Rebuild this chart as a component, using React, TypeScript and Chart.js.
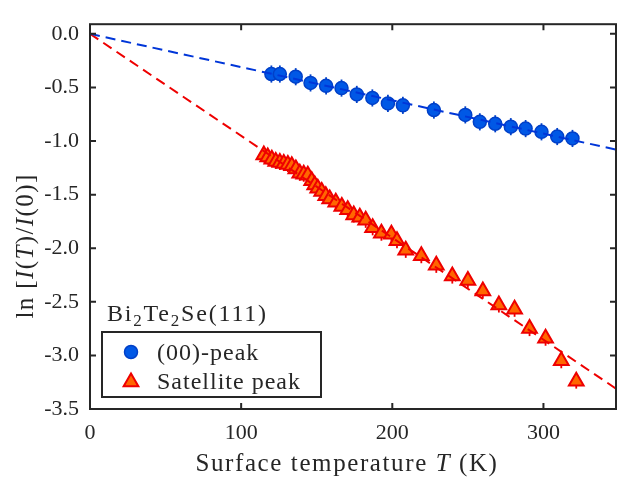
import React, { useEffect, useRef } from 'react';
import { Chart, registerables } from 'chart.js';

Chart.register(...registerables);

// ---------- data ----------
const blueT = [120.0, 125.6, 136.1, 145.9, 156.2, 166.4, 176.5, 186.8, 197.1, 207.0, 227.5, 248.3, 257.9, 268.1, 278.4, 288.2, 298.7, 309.1, 319.2];
const blueLn = [-0.375, -0.375, -0.4, -0.458, -0.485, -0.506, -0.565, -0.598, -0.649, -0.667, -0.711, -0.756, -0.821, -0.839, -0.866, -0.884, -0.914, -0.958, -0.976];
const blueErr = [0.08, 0.08, 0.08, 0.08, 0.08, 0.08, 0.08, 0.08, 0.08, 0.08, 0.08, 0.08, 0.08, 0.08, 0.08, 0.08, 0.08, 0.08, 0.08];

const redT = [115.0, 117.6, 120.3, 122.9, 125.6, 128.2, 130.9, 133.5, 136.2, 138.8, 141.4, 144.1, 146.7, 148.7, 150.7, 153.3, 156.0, 158.6, 162.6, 166.6, 170.5, 174.5, 178.5, 182.4, 187.0, 192.8, 199.4, 203.1, 208.9, 219.2, 229.1, 239.7, 250.0, 259.9, 270.5, 280.9, 290.8, 301.4, 311.8, 321.7];
const redLn = [-1.13, -1.15, -1.17, -1.19, -1.2, -1.21, -1.22, -1.23, -1.26, -1.3, -1.31, -1.32, -1.37, -1.41, -1.44, -1.47, -1.51, -1.54, -1.57, -1.61, -1.64, -1.69, -1.71, -1.74, -1.81, -1.86, -1.87, -1.93, -2.02, -2.07, -2.16, -2.26, -2.3, -2.4, -2.53, -2.57, -2.75, -2.84, -3.05, -3.24];
const redErr = [0.07, 0.07, 0.07, 0.07, 0.07, 0.07, 0.07, 0.07, 0.07, 0.07, 0.07, 0.07, 0.07, 0.07, 0.07, 0.07, 0.07, 0.07, 0.07, 0.07, 0.07, 0.07, 0.07, 0.07, 0.07, 0.07, 0.07, 0.07, 0.07, 0.07, 0.07, 0.07, 0.07, 0.07, 0.07, 0.07, 0.07, 0.07, 0.07, 0.07];

const fitT = [0, 348];
const blueFit = [0, -1.08];
const redFit = [0, -3.31];

const xTicks = [0, 100, 200, 300];
const yTicks = [0, -0.5, -1, -1.5, -2, -2.5, -3, -3.5];
const X_MIN = 0;
const X_MAX = 348;
const Y_MIN = -3.5;
const Y_MAX = 0.09;

type Seg = { t: string; it?: boolean; sub?: boolean };
const legendTitle: Seg[] = [{ t: 'Bi' }, { t: '2', sub: true }, { t: 'Te' }, { t: '2', sub: true }, { t: 'Se(111)' }];
const seriesLabels = ['(00)-peak', 'Satellite peak'];
const xTitle: Seg[] = [{ t: 'Surface temperature ' }, { t: 'T', it: true }, { t: ' (K)' }];
const yTitle: Seg[] = [{ t: 'ln [' }, { t: 'I', it: true }, { t: '(' }, { t: 'T', it: true }, { t: ')/' }, { t: 'I', it: true }, { t: '(0)]' }];

// ---------- styles ----------
const FONT = "'Liberation Serif', 'Times New Roman', serif";
const AXIS = '#262626';
const BLUE_FILL = '#0058e6';
const BLUE_EDGE = '#0040c8';
const BLUE_LINE = '#0036d8';
const RED_FILL = '#ff6600';
const RED_EDGE = '#ee0000';
const RED_LINE = '#ee0000';

function drawSegs(ctx: CanvasRenderingContext2D, segs: Seg[], x: number, y: number, size: number, align: 'left' | 'center', spacing: number) {
  ctx.save();
  ctx.textBaseline = 'alphabetic';
  ctx.textAlign = 'left';
  (ctx as any).letterSpacing = spacing + 'px';
  ctx.fillStyle = AXIS;
  const fontFor = (s: Seg) => `${s.it ? 'italic ' : ''}${s.sub ? Math.round(size * 0.7) : size}px ${FONT}`;
  let total = 0;
  for (const s of segs) {
    ctx.font = fontFor(s);
    total += ctx.measureText(s.t).width;
  }
  let cx = align === 'center' ? x - total / 2 : x;
  for (const s of segs) {
    ctx.font = fontFor(s);
    ctx.fillText(s.t, cx, y + (s.sub ? size * 0.22 : 0));
    cx += ctx.measureText(s.t).width;
  }
  ctx.restore();
}

function circle(ctx: CanvasRenderingContext2D, x: number, y: number, r: number) {
  ctx.beginPath();
  ctx.arc(x, y, r, 0, Math.PI * 2);
  ctx.fillStyle = BLUE_FILL;
  ctx.fill();
  ctx.lineWidth = 1.5;
  ctx.strokeStyle = BLUE_EDGE;
  ctx.stroke();
}

function triangle(ctx: CanvasRenderingContext2D, x: number, y: number, r: number) {
  ctx.beginPath();
  for (let i = 0; i < 3; i++) {
    const a = (i * 2 * Math.PI) / 3;
    const px = x + Math.sin(a) * r;
    const py = y - Math.cos(a) * r;
    if (i === 0) ctx.moveTo(px, py);
    else ctx.lineTo(px, py);
  }
  ctx.closePath();
  ctx.fillStyle = RED_FILL;
  ctx.fill();
  ctx.lineWidth = 2;
  ctx.lineJoin = 'miter';
  ctx.strokeStyle = RED_EDGE;
  ctx.stroke();
}

const decorPlugin = {
  id: 'decor',
  beforeDatasetsDraw(chart: any) {
    const { ctx, scales } = chart;
    const xs = scales.x;
    const ys = scales.y;
    ctx.save();
    ctx.lineWidth = 1.8;
    ctx.strokeStyle = BLUE_EDGE;
    blueT.forEach((t, i) => {
      const px = xs.getPixelForValue(t);
      ctx.beginPath();
      ctx.moveTo(px, ys.getPixelForValue(blueLn[i] + blueErr[i]));
      ctx.lineTo(px, ys.getPixelForValue(blueLn[i] - blueErr[i]));
      ctx.stroke();
    });
    ctx.strokeStyle = RED_EDGE;
    redT.forEach((t, i) => {
      const px = xs.getPixelForValue(t);
      ctx.beginPath();
      ctx.moveTo(px, ys.getPixelForValue(redLn[i] + redErr[i]));
      ctx.lineTo(px, ys.getPixelForValue(redLn[i] - redErr[i]));
      ctx.stroke();
    });
    ctx.restore();
  },
  afterDatasetsDraw(chart: any) {
    const { ctx, chartArea: a, scales } = chart;
    ctx.save();
    ctx.strokeStyle = AXIS;
    ctx.lineWidth = 2;
    ctx.strokeRect(a.left, a.top, a.right - a.left, a.bottom - a.top);
    const TL = 6;
    ctx.beginPath();
    xTicks.forEach((v) => {
      const px = scales.x.getPixelForValue(v);
      ctx.moveTo(px, a.bottom);
      ctx.lineTo(px, a.bottom - TL);
      ctx.moveTo(px, a.top);
      ctx.lineTo(px, a.top + TL);
    });
    yTicks.forEach((v) => {
      const py = scales.y.getPixelForValue(v);
      ctx.moveTo(a.left, py);
      ctx.lineTo(a.left + TL, py);
      ctx.moveTo(a.right, py);
      ctx.lineTo(a.right - TL, py);
    });
    ctx.stroke();
    ctx.restore();
  },
  afterDraw(chart: any) {
    const { ctx, chartArea: a } = chart;
    // axis titles
    drawSegs(ctx, xTitle, (a.left + a.right) / 2 - 6, 471, 25, 'center', 1.6);
    ctx.save();
    ctx.translate(33, 246);
    ctx.rotate(-Math.PI / 2);
    drawSegs(ctx, yTitle, 0, 0, 25, 'center', 1.4);
    ctx.restore();

    // legend
    const lx = a.left + 12;
    drawSegs(ctx, legendTitle, lx + 5, 321, 24, 'left', 1.8);
    ctx.save();
    ctx.fillStyle = '#ffffff';
    ctx.fillRect(lx, 332, 219, 65);
    ctx.strokeStyle = AXIS;
    ctx.lineWidth = 2;
    ctx.strokeRect(lx, 332, 219, 65);
    circle(ctx, lx + 29, 352, 6.5);
    triangle(ctx, lx + 29, 382, 8.5);
    ctx.restore();
    drawSegs(ctx, [{ t: seriesLabels[0] }], lx + 55, 360, 24, 'left', 1);
    drawSegs(ctx, [{ t: seriesLabels[1] }], lx + 55, 389, 24, 'left', 1);
  },
};

export default function App() {
  const ref = useRef<HTMLCanvasElement | null>(null);
  useEffect(() => {
    if (!ref.current) return;
    const chart = new Chart(ref.current, {
      type: 'scatter',
      data: {
        datasets: [
          {
            label: 'fit00',
            data: fitT.map((t, i) => ({ x: t, y: blueFit[i] })),
            showLine: true,
            borderColor: BLUE_LINE,
            borderWidth: 2,
            borderDash: [10, 6],
            pointRadius: 0,
            order: 0,
          },
          {
            label: 'fitSat',
            data: fitT.map((t, i) => ({ x: t, y: redFit[i] })),
            showLine: true,
            borderColor: RED_LINE,
            borderWidth: 2,
            borderDash: [10, 6],
            pointRadius: 0,
            order: 0,
          },
          {
            label: seriesLabels[1],
            data: redT.map((t, i) => ({ x: t, y: redLn[i] })),
            pointStyle: 'triangle',
            pointRadius: 8.5,
            backgroundColor: RED_FILL,
            borderColor: RED_EDGE,
            borderWidth: 2,
            order: 1,
          },
          {
            label: seriesLabels[0],
            data: blueT.map((t, i) => ({ x: t, y: blueLn[i] })),
            pointStyle: 'circle',
            pointRadius: 6.5,
            backgroundColor: BLUE_FILL,
            borderColor: BLUE_EDGE,
            borderWidth: 1.5,
            order: 1,
          },
        ],
      },
      options: {
        animation: false,
        responsive: true,
        maintainAspectRatio: false,
        layout: { padding: { top: 7, right: 1, bottom: 0, left: 0 }, autoPadding: false },
        plugins: { legend: { display: false }, tooltip: { enabled: false } },
        scales: {
          x: {
            type: 'linear',
            min: X_MIN,
            max: X_MAX,
            grid: { display: false, drawTicks: false },
            border: { display: false },
            afterBuildTicks: (s: any) => {
              s.ticks = xTicks.map((v) => ({ value: v }));
            },
            afterFit: (s: any) => {
              s.height = 74;
            },
            ticks: {
              color: AXIS,
              font: { family: FONT, size: 22 },
              padding: 11,
              maxRotation: 0,
              autoSkip: false,
              callback: (v: any) => String(v),
            },
          },
          y: {
            type: 'linear',
            min: Y_MIN,
            max: Y_MAX,
            grid: { display: false, drawTicks: false },
            border: { display: false },
            afterBuildTicks: (s: any) => {
              s.ticks = yTicks.map((v) => ({ value: v }));
            },
            afterFit: (s: any) => {
              s.width = 90;
            },
            ticks: {
              color: AXIS,
              font: { family: FONT, size: 22 },
              padding: 11,
              autoSkip: false,
              callback: (v: any) => Number(v).toFixed(1),
            },
          },
        },
      } as any,
      plugins: [decorPlugin],
    });
    return () => chart.destroy();
  }, []);
  return (
    <div style={{ position: 'fixed', left: 0, top: 0, width: 617, height: 483, background: '#fff' }}>
      <canvas ref={ref} />
    </div>
  );
}
